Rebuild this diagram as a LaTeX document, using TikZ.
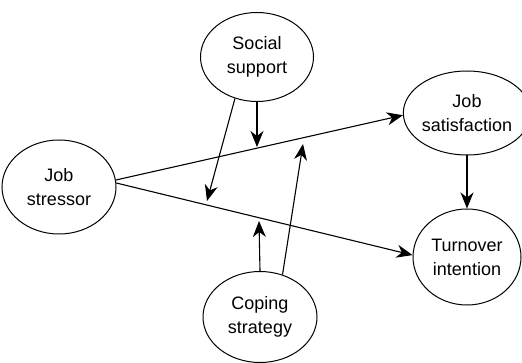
\documentclass[tikz,border=0pt]{standalone}
\usepackage{fontspec}
\setmainfont{Liberation Sans}
\usetikzlibrary{shapes.geometric,arrows.meta}
\begin{document}
\begin{tikzpicture}[x=1pt,y=-1pt,
  var/.style={draw,ellipse,line width=1pt,inner sep=0pt,align=center,
    font=\fontsize{18}{24}\selectfont},
  arr/.style={line width=1.1pt,-{Stealth[length=16pt,width=13pt,inset=5pt]}}]
\useasboundingbox[fill=white] (0,0) rectangle (522,363);
\node[var,minimum width=113pt,minimum height=89pt] (soc) at (257,57) {Social\\support};
\node[var,minimum width=114pt,minimum height=94pt] (str) at (59,187) {Job\\stressor};
\node[var,minimum width=112pt,minimum height=84pt] (sat) at (467,113) {Job\\satisfaction};
\node[var,minimum width=108pt,minimum height=96pt] (tur) at (467,257) {Turnover\\intention};
\node[var,minimum width=114pt,minimum height=91pt] (cop) at (260,317) {Coping\\strategy};
\coordinate (m1) at (207,201);
\coordinate (m2) at (257,147);
\coordinate (m3) at (259,221);
\coordinate (m4) at (303,144);
\draw[arr] (str.7) -- (sat.182);
\draw[arr] (str.4) -- (tur.178);
\draw[arr] (sat.south) -- (tur.north);
\draw[arr] (soc.242) -- (m1);
\draw[arr] (soc.south) -- (m2);
\draw[arr] (cop.north) -- (m3);
\draw[arr] (cop.62) -- (m4);
\end{tikzpicture}
\end{document}
